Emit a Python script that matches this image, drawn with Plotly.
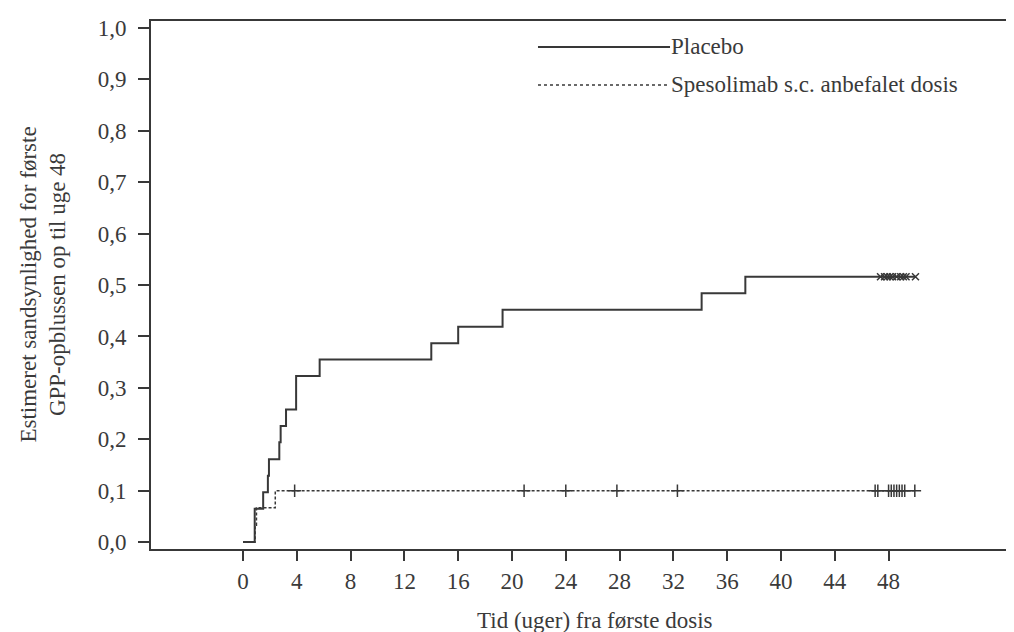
import plotly.graph_objects as go
import numpy as np

# ---- data ----
placebo_time = [0, 0.87, 1.5, 1.85, 1.93, 2.7, 2.8, 3.2, 3.95, 5.7, 14.0, 16.0, 19.3, 34.1, 37.35, 50.0]
placebo_prob = [0, 0.065, 0.097, 0.129, 0.161, 0.194, 0.226, 0.258, 0.323, 0.355, 0.387, 0.419, 0.452, 0.484, 0.516, 0.516]
placebo_censor = [47.4, 47.7, 47.9, 48.1, 48.3, 48.6, 48.9, 49.1, 49.3, 50.0]

spes_time = [0, 0.9, 1.0, 2.4, 49.95]
spes_prob = [0, 0.033, 0.067, 0.100, 0.100]
spes_censor = [3.84, 20.9, 24.0, 27.8, 32.3, 47.0, 47.2, 48.0, 48.2, 48.4, 48.6, 48.8, 49.0, 49.2, 49.95]

x_ticks = list(range(0, 49, 4))
y_ticks = [round(0.1 * i, 1) for i in range(11)]
y_ticktext = [f"{v:.1f}".replace(".", ",") for v in y_ticks]

legend_labels = ["Placebo", "Spesolimab s.c. anbefalet dosis"]
x_title = "Tid (uger) fra første dosis"
y_title = "Estimeret sandsynlighed for første<br>GPP-opblussen op til uge 48"


def step_value(times, probs, t):
    idx = np.searchsorted(times, t, side="right") - 1
    return probs[max(idx, 0)]


LINE = "#383838"
TEXT = "#3a3a3a"
FONT = "Liberation Serif"
FS = 23

fig = go.Figure()
fig.add_trace(go.Scatter(x=placebo_time, y=placebo_prob, mode="lines", line_shape="hv",
                         line=dict(color=LINE, width=2), showlegend=False))
fig.add_trace(go.Scatter(x=placebo_censor, y=[step_value(placebo_time, placebo_prob, t) for t in placebo_censor],
                         mode="markers",
                         marker=dict(symbol="x-thin-open", size=7, color=LINE, line=dict(color=LINE, width=1.5)),
                         showlegend=False))
fig.add_trace(go.Scatter(x=spes_time, y=spes_prob, mode="lines", line_shape="hv",
                         line=dict(color=LINE, width=1.5, dash="3px,2px"), showlegend=False))
fig.add_trace(go.Scatter(x=spes_censor, y=[step_value(spes_time, spes_prob, t) for t in spes_censor],
                         mode="markers",
                         marker=dict(symbol="cross-thin-open", size=9, color=LINE, line=dict(color=LINE, width=1.5)),
                         showlegend=False))

# legend drawn manually (long sample lines as in the reference)
leg_x0, leg_x1 = 0.4443, 0.5959
leg_y = [0.9508, 0.8788]
dashes = ["solid", "dot"]
widths = [2, 1.5]
for lab, yy, d, w in zip(legend_labels, leg_y, dashes, widths):
    fig.add_shape(type="line", xref="paper", yref="paper", x0=leg_x0, x1=leg_x1, y0=yy, y1=yy,
                  line=dict(color=LINE, width=w, dash=d))
    fig.add_annotation(xref="paper", yref="paper", x=leg_x1, y=yy, text=lab, showarrow=False,
                       xanchor="left", yanchor="middle", xshift=-1,
                       font=dict(family=FONT, size=FS, color=TEXT))

fig.add_annotation(xref="x", yref="paper", x=26.2, y=-0.163, text=x_title, showarrow=False,
                   xanchor="center", yanchor="bottom", font=dict(family=FONT, size=FS, color=TEXT))
fig.add_annotation(xref="paper", yref="paper", x=-0.113, y=0.5, text=y_title, showarrow=False, textangle=-90,
                   xanchor="center", yanchor="middle", xshift=-10,
                   font=dict(family=FONT, size=FS, color=TEXT))

fig.update_xaxes(range=[-6.84, 57.92], tickvals=x_ticks, ticks="outside", ticklen=10, tickwidth=2,
                 tickcolor=LINE, showline=True, linecolor=LINE, linewidth=2, mirror=True,
                 showgrid=False, zeroline=False, ticklabelstandoff=0,
                 tickfont=dict(family=FONT, size=FS, color=TEXT))
fig.update_yaxes(range=[-0.0134, 1.0136], tickvals=y_ticks, ticktext=y_ticktext, ticks="outside", ticklen=11,
                 tickwidth=2, tickcolor=LINE, showline=True, linecolor=LINE, linewidth=2, mirror=False,
                 showgrid=False, zeroline=False, ticklabelstandoff=7,
                 tickfont=dict(family=FONT, size=FS, color=TEXT))

fig.update_layout(width=1014, height=632, margin=dict(l=143, r=0, t=13, b=91),
                  plot_bgcolor="white", paper_bgcolor="white", showlegend=False)

fig.write_html("out.html")
